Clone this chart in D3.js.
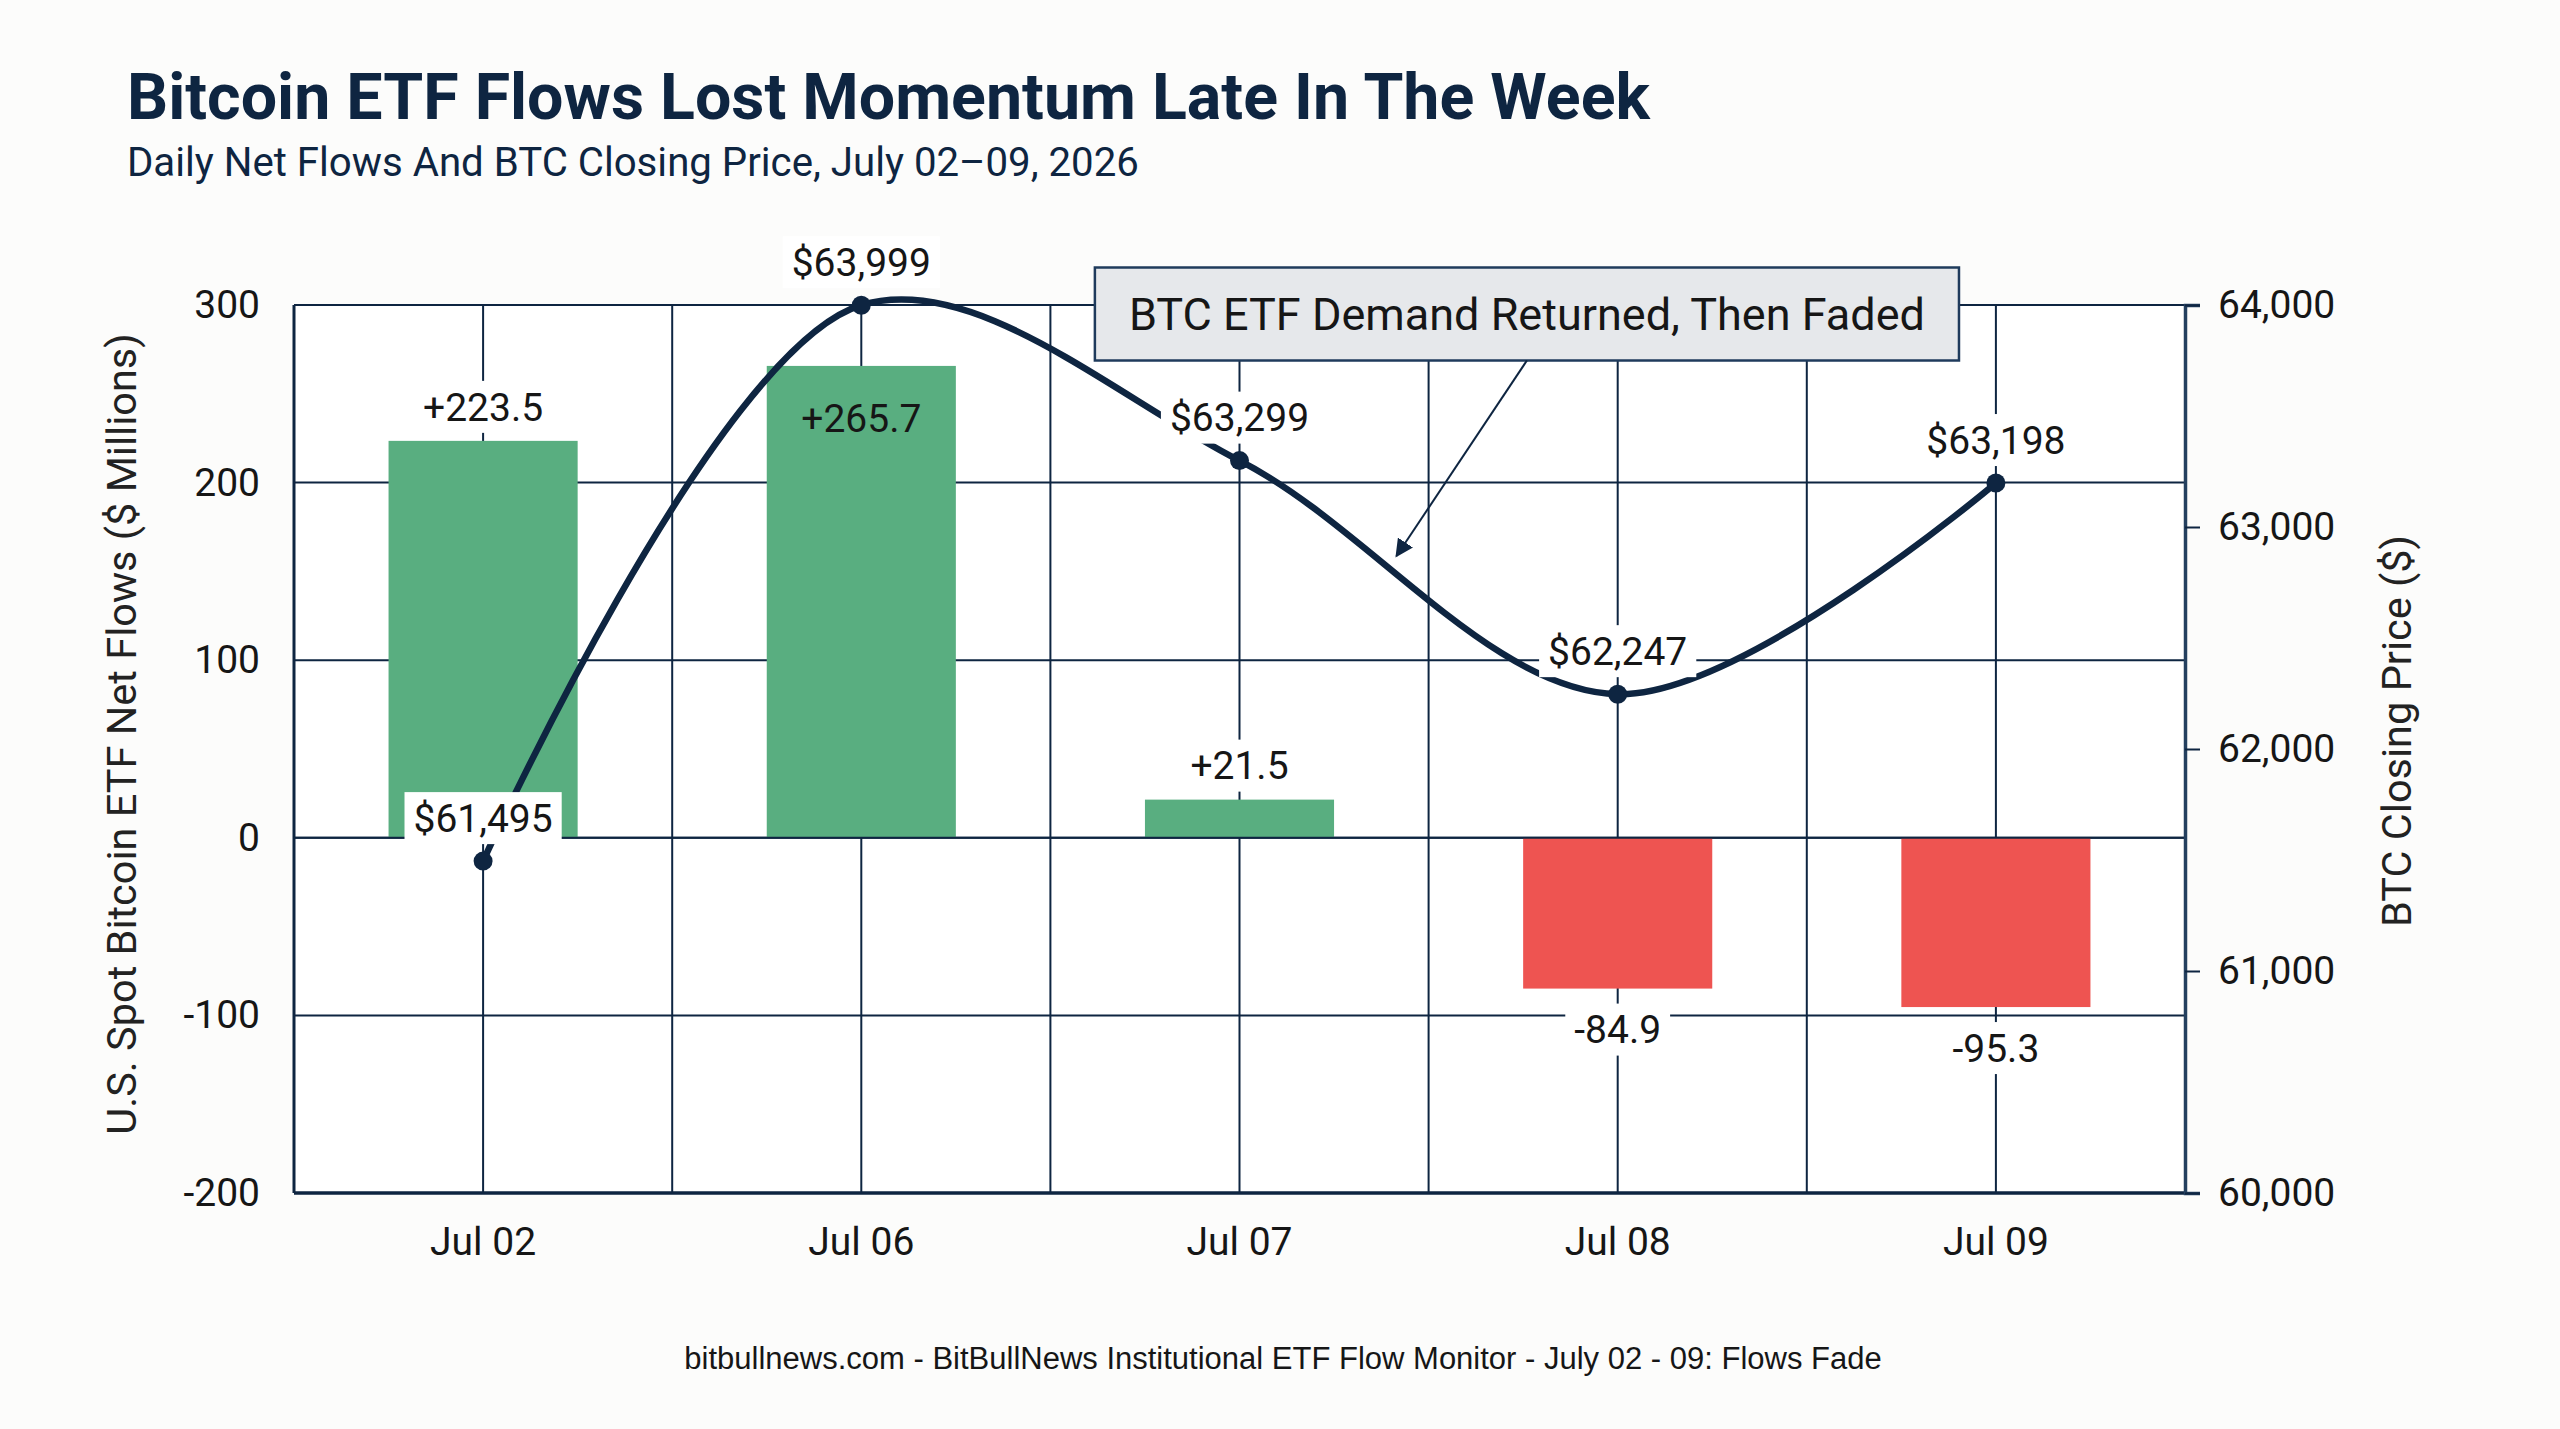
<!DOCTYPE html>
<html>
<head>
<meta charset="utf-8">
<script src="https://cdn.jsdelivr.net/npm/d3@7"></script>
<style>
  html, body { margin: 0; padding: 0; background: #fcfcfb; }
  svg { display: block; font-family: Roboto, "Noto Sans", sans-serif; }
</style>
</head>
<body>
<div id="chart"></div>
<script>
// Data
var dates = ['Jul 02', 'Jul 06', 'Jul 07', 'Jul 08', 'Jul 09'];
var netFlows = [223.5, 265.7, 21.5, -84.9, -95.3];
var btcClose = [61495, 63999, 63299, 62247, 63198];
var flowTicks = [-200, -100, 0, 100, 200, 300];
var priceTicks = [60000, 61000, 62000, 63000, 64000];

var width = 2560;
var height = 1429;
var margin = {top: 305, right: 375, bottom: 236, left: 294};
var plotW = width - margin.left - margin.right;
var plotH = height - margin.top - margin.bottom;

var navy = '#0e2541';
var ink = '#161616';
var green = '#59ae80';
var red = '#ee5451';

var rows = dates.map(function(d, i) {
  return {date: d, flow: netFlows[i], price: btcClose[i]};
});

// plain hyphen for negatives, as in the picture
function hyphen(s) { return s.replace('\u2212', '-'); }

var svg = d3.select('#chart').append('svg')
  .attr('width', width)
  .attr('height', height);

svg.append('rect')
  .attr('width', width)
  .attr('height', height)
  .attr('fill', '#fcfcfb');

// Titles
svg.append('text')
  .attr('x', 127)
  .attr('y', 119)
  .attr('fill', navy)
  .attr('font-size', 64.5)
  .attr('font-weight', 700)
  .text('Bitcoin ETF Flows Lost Momentum Late In The Week');

svg.append('text')
  .attr('x', 127)
  .attr('y', 176)
  .attr('fill', navy)
  .attr('font-size', 40.2)
  .text('Daily Net Flows And BTC Closing Price, July 02\u201309, 2026');

var g = svg.append('g')
  .attr('transform', 'translate(' + margin.left + ',' + margin.top + ')');

// Scales
var x = d3.scaleBand().domain(dates).range([0, plotW]).padding(0);
var step = x.bandwidth();
var yFlow = d3.scaleLinear().domain([-200, 300]).range([plotH, 0]);
var yPrice = d3.scaleLinear().domain([60000, 64000]).range([plotH, 0]);

function cx(d) { return x(d) + step / 2; }

g.append('rect')
  .attr('width', plotW)
  .attr('height', plotH)
  .attr('fill', '#ffffff');

// Grid: horizontal on flow ticks, vertical on band edges and centres
var grid = g.append('g').attr('class', 'grid');

grid.selectAll('line.h')
  .data(flowTicks)
  .enter().append('line')
    .attr('class', 'h')
    .attr('x1', 0)
    .attr('x2', plotW)
    .attr('y1', function(d) { return yFlow(d); })
    .attr('y2', function(d) { return yFlow(d); })
    .attr('stroke', navy)
    .attr('stroke-width', 2);

var vLines = [];
dates.forEach(function(d) {
  vLines.push(x(d));
  vLines.push(cx(d));
});
vLines.push(plotW);

grid.selectAll('line.v')
  .data(vLines)
  .enter().append('line')
    .attr('class', 'v')
    .attr('x1', function(d) { return d; })
    .attr('x2', function(d) { return d; })
    .attr('y1', 0)
    .attr('y2', plotH)
    .attr('stroke', navy)
    .attr('stroke-width', 2);

// Bars
g.selectAll('rect.bar')
  .data(rows)
  .enter().append('rect')
    .attr('class', 'bar')
    .attr('x', function(d) { return cx(d.date) - step / 4; })
    .attr('width', step / 2)
    .attr('y', function(d) { return yFlow(Math.max(0, d.flow)); })
    .attr('height', function(d) { return Math.abs(yFlow(d.flow) - yFlow(0)); })
    .attr('fill', function(d) { return d.flow >= 0 ? green : red; });

// zero line redrawn on top of bars
g.append('line')
  .attr('x1', 0)
  .attr('x2', plotW)
  .attr('y1', yFlow(0))
  .attr('y2', yFlow(0))
  .attr('stroke', navy)
  .attr('stroke-width', 2);

// Axes frame lines
g.append('line')
  .attr('x1', 0).attr('x2', 0)
  .attr('y1', 0).attr('y2', plotH)
  .attr('stroke', navy).attr('stroke-width', 3);
g.append('line')
  .attr('x1', 0).attr('x2', plotW)
  .attr('y1', plotH).attr('y2', plotH)
  .attr('stroke', navy).attr('stroke-width', 3.5);

// Left axis
var leftAxis = g.append('g')
  .call(d3.axisLeft(yFlow).tickValues(flowTicks).tickSize(0).tickPadding(34)
    .tickFormat(function(d) { return hyphen(d3.format('d')(d)); }));
leftAxis.select('.domain').remove();
leftAxis.selectAll('text')
  .attr('font-size', 39)
  .attr('font-family', 'Roboto, sans-serif')
  .attr('fill', ink);

// Right axis
var rightAxis = g.append('g')
  .attr('transform', 'translate(' + plotW + ',0)')
  .call(d3.axisRight(yPrice).tickValues(priceTicks).tickSize(15).tickPadding(18)
    .tickFormat(d3.format(',')));
rightAxis.select('.domain')
  .attr('stroke', '#24405f')
  .attr('stroke-width', 3.5);
rightAxis.selectAll('.tick line')
  .attr('stroke', navy)
  .attr('stroke-width', 2);
rightAxis.selectAll('text')
  .attr('font-size', 39)
  .attr('font-family', 'Roboto, sans-serif')
  .attr('fill', ink);

// Bottom axis
var bottomAxis = g.append('g')
  .attr('transform', 'translate(0,' + plotH + ')')
  .call(d3.axisBottom(x).tickSize(0).tickPadding(34));
bottomAxis.select('.domain').remove();
bottomAxis.selectAll('text')
  .attr('font-size', 39)
  .attr('font-family', 'Roboto, sans-serif')
  .attr('fill', ink);

// Axis titles
svg.append('text')
  .attr('transform', 'translate(136,734) rotate(-90)')
  .attr('text-anchor', 'middle')
  .attr('fill', '#222')
  .attr('font-size', 41.5)
  .text('U.S. Spot Bitcoin ETF Net Flows ($ Millions)');

svg.append('text')
  .attr('transform', 'translate(2411,731) rotate(-90)')
  .attr('text-anchor', 'middle')
  .attr('fill', '#222')
  .attr('font-size', 41.5)
  .text('BTC Closing Price ($)');

// Price line
var line = d3.line()
  .x(function(d) { return cx(d.date); })
  .y(function(d) { return yPrice(d.price); })
  .curve(d3.curveCatmullRom);

var pricePath = g.append('path')
  .datum(rows)
  .attr('d', line)
  .attr('fill', 'none')
  .attr('stroke', navy)
  .attr('stroke-width', 6.5)
  .attr('stroke-linecap', 'round');

g.selectAll('circle.pt')
  .data(rows)
  .enter().append('circle')
    .attr('class', 'pt')
    .attr('cx', function(d) { return cx(d.date); })
    .attr('cy', function(d) { return yPrice(d.price); })
    .attr('r', 9.5)
    .attr('fill', navy);

/* === Labels === */

var labels = g.append('g').attr('class', 'labels');

// text centred at (x, y) with an optional white box behind it
function boxedLabel(px, py, str, boxed) {
  var lg = labels.append('g');
  var t = lg.append('text')
    .attr('x', px)
    .attr('y', py)
    .attr('text-anchor', 'middle')
    .attr('dy', '0.35em')
    .attr('font-size', 39)
    .attr('fill', ink)
    .text(str);
  var bb = t.node().getBBox();
  if (boxed) {
    lg.insert('rect', 'text')
      .attr('x', bb.x - 9)
      .attr('y', py - 26)
      .attr('width', bb.width + 18)
      .attr('height', 52)
      .attr('fill', '#ffffff');
  }
  return {x0: bb.x - 9, x1: bb.x + bb.width + 9, y0: py - 26, y1: py + 26};
}

function overlaps(a, b) {
  return a.x0 < b.x1 && b.x0 < a.x1 && a.y0 < b.y1 && b.y0 < a.y1;
}

var fmtPrice = d3.format('$,');
var fmtFlow = d3.format('+.1f');

rows.forEach(function(d) {
  var px = cx(d.date);
  var py = yPrice(d.price);
  var priceBox = boxedLabel(px, py - 43, fmtPrice(d.price), true);
  var pointBox = {x0: px - 12, x1: px + 12, y0: py - 12, y1: py + 12};

  var top = yFlow(Math.max(0, d.flow));
  var bottom = yFlow(Math.min(0, d.flow));
  var half = 26;
  if (d.flow >= 0) {
    var ly = top - 34;
    var test = {x0: px - 60, x1: px + 60, y0: ly - half, y1: ly + half};
    if (overlaps(test, pointBox) || overlaps(test, priceBox)) {
      boxedLabel(px, top + 52, fmtFlow(d.flow), false);
    } else {
      boxedLabel(px, ly, fmtFlow(d.flow), true);
    }
  } else {
    boxedLabel(px, bottom + 41, hyphen(d3.format('.1f')(d.flow)), true);
  }
});

// Annotation callout
var defs = svg.append('defs');
defs.append('marker')
  .attr('id', 'arrow')
  .attr('viewBox', '0 0 10 10')
  .attr('refX', 9)
  .attr('refY', 5)
  .attr('markerWidth', 9)
  .attr('markerHeight', 9)
  .attr('orient', 'auto')
  .append('path')
    .attr('d', 'M0,0 L10,5 L0,10 z')
    .attr('fill', navy);

// find y on the price curve at a given x
function curveYAt(targetX) {
  var node = pricePath.node();
  var len = node.getTotalLength();
  var best = null;
  for (var s = 0; s <= len; s += 1) {
    var p = node.getPointAtLength(s);
    if (!best || Math.abs(p.x - targetX) < Math.abs(best.x - targetX)) best = p;
  }
  return best.y;
}

var calloutCx = cx('Jul 07') + step * 0.76;
var calloutCy = 9;
var arrowX = cx('Jul 07') + step * 0.415;
var arrowY = curveYAt(arrowX) - 18;

var callout = g.append('g');
var ct = callout.append('text')
  .attr('x', calloutCx)
  .attr('y', calloutCy)
  .attr('text-anchor', 'middle')
  .attr('dy', '0.35em')
  .attr('font-size', 45)
  .attr('fill', ink)
  .text('BTC ETF Demand Returned, Then Faded');
var cb = ct.node().getBBox();
var boxH = 93;
callout.insert('rect', 'text')
  .attr('x', cb.x - 34)
  .attr('y', calloutCy - boxH / 2)
  .attr('width', cb.width + 68)
  .attr('height', boxH)
  .attr('fill', '#e6e8eb')
  .attr('stroke', '#1f3b5c')
  .attr('stroke-width', 2.5);

callout.append('line')
  .attr('x1', calloutCx)
  .attr('y1', calloutCy + boxH / 2)
  .attr('x2', arrowX)
  .attr('y2', arrowY)
  .attr('stroke', navy)
  .attr('stroke-width', 2)
  .attr('marker-end', 'url(#arrow)');

// Footer
svg.append('text')
  .attr('x', 1283)
  .attr('y', 1369)
  .attr('text-anchor', 'middle')
  .attr('font-family', '"Liberation Sans", Arial, sans-serif')
  .attr('font-size', 31)
  .attr('fill', ink)
  .text('bitbullnews.com - BitBullNews Institutional ETF Flow Monitor - July 02 - 09: Flows Fade');
</script>
</body>
</html>
